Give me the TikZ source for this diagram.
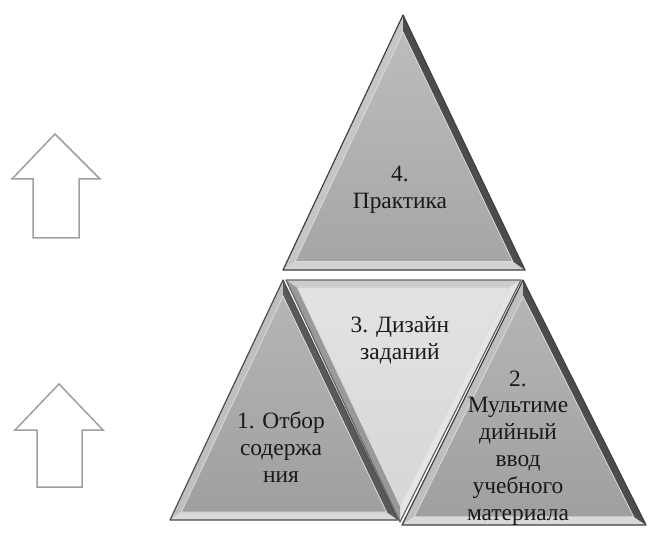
\documentclass[tikz,border=0pt]{standalone}
\usepackage{fontspec}
\setmainfont{Liberation Serif}
\usetikzlibrary{calc}
\newcommand\BevTri[9]{%
  \coordinate (tA) at (#1);
  \coordinate (tB) at (#2);
  \coordinate (tC) at (#3);
  \coordinate (tG) at (barycentric cs:tA=1,tB=1,tC=1);
  \coordinate (iA) at ($(tG)!0.9!(tA)$);
  \coordinate (iB) at ($(tG)!0.9!(tB)$);
  \coordinate (iC) at ($(tG)!0.9!(tC)$);
  \fill[#4] (tA)--(tB)--(iB)--(iA)--cycle;
  \fill[#5] (tB)--(tC)--(iC)--(iB)--cycle;
  \fill[#6] (tC)--(tA)--(iA)--(iC)--cycle;
  \shade[top color=#7, bottom color=#8] (iA)--(iB)--(iC)--cycle;
  \draw[white!70!gray, line width=0.8bp] (iA)--(iB)--(iC)--cycle;
  \draw[#9, line width=1.2bp, line join=round] (tA)--(tB)--(tC)--cycle;
}
\begin{document}
\begin{tikzpicture}[x=1bp,y=-1bp,
  lbl/.style={font=\fontsize{23.5}{27}\selectfont, align=center, inner sep=0pt, text=black!90},
  uparrow/.style={draw=gray!75, line width=1.5bp, fill=white, line join=miter}]
\useasboundingbox (0,0) rectangle (648,534);
% arrows
\draw[uparrow] (55,134) -- (100,179) -- (79,179) -- (79,238) -- (33,238) -- (33,179) -- (12,179) -- cycle;
\draw[uparrow] (59,384) -- (103,430) -- (82,430) -- (82,487) -- (37,487) -- (37,430) -- (15,430) -- cycle;
% top triangle 4
\BevTri{403,15}{283,270}{525,270}{gray!45}{gray!35}{black!70}{gray!52}{gray!70}{black!75}
% triangle 1
\BevTri{283,280}{170,520}{398,520}{gray!50}{gray!30}{black!65}{gray!58}{gray!75}{black!70}
% triangle 2
\BevTri{523,280}{402,525}{646,525}{gray!50}{gray!30}{black!70}{gray!58}{gray!75}{black!75}
% triangle 3 (inverted)
\BevTri{286,280}{521,280}{400,522}{gray!40}{gray!20}{gray!80}{gray!22}{gray!32}{black!60}
% labels
\node[lbl] (t4) at (400,190) {4.\\Практика};
\node[lbl] (t3) at (400,340) {3. Дизайн\\заданий};
\node[lbl] (t1) at (281,447) {1. Отбор\\содержа\\ния};
\node[lbl] (t2) at (518,448) {2.\\Мультиме\\дийный\\ввод\\учебного\\материала};
\end{tikzpicture}
\end{document}
